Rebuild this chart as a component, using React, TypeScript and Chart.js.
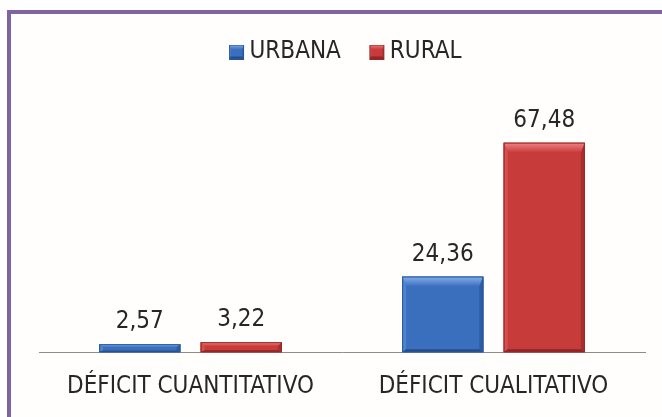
import React, { useEffect, useRef } from "react";
import { Chart, registerables } from "chart.js";

Chart.register(...registerables);

const categories = ["DÉFICIT CUANTITATIVO", "DÉFICIT CUALITATIVO"];
const seriesNames = ["URBANA", "RURAL"];
const urbanaValues = [2.57, 24.36];
const ruralValues = [3.22, 67.48];

const FONT_FAMILY = "'Liberation Sans Narrow', 'Arial Narrow', 'DejaVu Sans Condensed', sans-serif";

const palettes = [
  { body: "#3a6fbe", top: "#86b0ec", left: "#4f83d0", right: "#2c5da6", bottom: "#234e8e", edge: "#2a5695" },
  { body: "#c73b3b", top: "#f18484", left: "#d64f4f", right: "#a92e2e", bottom: "#8e2424", edge: "#962a2a" },
];

function poly(ctx: CanvasRenderingContext2D, pts: number[][], fill: any) {
  ctx.beginPath();
  ctx.moveTo(pts[0][0], pts[0][1]);
  for (let i = 1; i < pts.length; i++) ctx.lineTo(pts[i][0], pts[i][1]);
  ctx.closePath();
  ctx.fillStyle = fill;
  ctx.fill();
}

function drawBevel(ctx: CanvasRenderingContext2D, l: number, t: number, width: number, h: number, pal: any, maxTop: number) {
  const r = l + width;
  const b = t + h;
  const tb = Math.min(maxTop, h * 0.4);
  const sb = Math.min(4, width * 0.12);
  const bb = Math.min(3, h * 0.2);
  ctx.save();
  ctx.fillStyle = pal.body;
  ctx.fillRect(l, t, width, h);
  const g = ctx.createLinearGradient(0, t, 0, t + tb);
  g.addColorStop(0, pal.top);
  g.addColorStop(1, pal.body);
  poly(ctx, [[l, t], [r, t], [r - sb, t + tb], [l + sb, t + tb]], g);
  poly(ctx, [[l, t], [l + sb, t + tb], [l + sb, b - bb], [l, b]], pal.left);
  poly(ctx, [[r, t], [r - sb, t + tb], [r - sb, b - bb], [r, b]], pal.right);
  poly(ctx, [[l, b], [l + sb, b - bb], [r - sb, b - bb], [r, b]], pal.bottom);
  ctx.strokeStyle = pal.edge;
  ctx.lineWidth = 1;
  ctx.strokeRect(l + 0.5, t + 0.5, width - 1, h - 1);
  ctx.restore();
}

const bevelPlugin = {
  id: "bevel",
  afterDatasetsDraw(chart: any) {
    const ctx: CanvasRenderingContext2D = chart.ctx;
    chart.data.datasets.forEach((_ds: any, di: number) => {
      const meta = chart.getDatasetMeta(di);
      const pal = palettes[di];
      meta.data.forEach((el: any) => {
        const { x, y, base, width } = el.getProps(["x", "y", "base", "width"], true);
        const t = Math.min(y, base);
        const b = Math.max(y, base);
        drawBevel(ctx, x - width / 2, t, width, b - t, pal, 10);
      });
    });
  },
};

const valueLabelPlugin = {
  id: "valueLabels",
  afterDatasetsDraw(chart: any) {
    const ctx: CanvasRenderingContext2D = chart.ctx;
    ctx.save();
    ctx.font = `24px ${FONT_FAMILY}`;
    ctx.fillStyle = "#262626";
    ctx.textAlign = "center";
    ctx.textBaseline = "bottom";
    chart.data.datasets.forEach((ds: any, di: number) => {
      const meta = chart.getDatasetMeta(di);
      meta.data.forEach((el: any, i: number) => {
        const v = ds.data[i] as number;
        ctx.fillText(v.toFixed(2).replace(".", ","), el.x, el.y - 10);
      });
    });
    ctx.restore();
  },
};

function makeLegendImage(pal: any): HTMLCanvasElement {
  const c = document.createElement("canvas");
  c.width = 30;
  c.height = 15;
  const ctx = c.getContext("2d") as CanvasRenderingContext2D;
  drawBevel(ctx, 14, 0, 15, 15, pal, 5);
  return c;
}

export default function App() {
  const canvasRef = useRef<HTMLCanvasElement | null>(null);

  useEffect(() => {
    document.body.style.margin = "0";
    const canvas = canvasRef.current;
    if (!canvas) return;
    const legendImgs = palettes.map(makeLegendImage);
    const chart = new Chart(canvas, {
      type: "bar",
      data: {
        labels: categories,
        datasets: [
          { label: seriesNames[0], data: urbanaValues, backgroundColor: palettes[0].body, borderWidth: 0 },
          { label: seriesNames[1], data: ruralValues, backgroundColor: palettes[1].body, borderWidth: 0 },
        ],
      },
      options: {
        animation: false,
        responsive: false,
        maintainAspectRatio: false,
        layout: { padding: { top: 18, left: 39, right: 17, bottom: 14 } },
        datasets: { bar: { categoryPercentage: 0.67, barPercentage: 0.8 } },
        plugins: {
          legend: {
            display: true,
            position: "top",
            labels: {
              usePointStyle: true,
              pointStyleWidth: 15,
              boxWidth: 15,
              boxHeight: 15,
              padding: 22,
              color: "#262626",
              font: { family: FONT_FAMILY, size: 24 },
              generateLabels: (ch: any) => {
                const items = (Chart.defaults.plugins.legend.labels as any).generateLabels(ch);
                return items.map((it: any, i: number) => ({ ...it, pointStyle: legendImgs[i] }));
              },
            },
          },
          tooltip: { enabled: false },
        },
        scales: {
          x: {
            grid: { display: false, drawTicks: false },
            border: { display: true, color: "#8c8c8c", width: 1 },
            ticks: { color: "#262626", padding: 20, font: { family: FONT_FAMILY, size: 24 } },
          },
          y: { display: false, min: 0, max: 89.6 },
        },
      } as any,
      plugins: [bevelPlugin, valueLabelPlugin],
    });
    return () => chart.destroy();
  }, []);

  return (
    <div style={{ position: "relative", width: 662, height: 417, overflow: "hidden", background: "#ffffff" }}>
      <div
        style={{
          position: "absolute",
          left: 7,
          top: 10,
          width: 700,
          height: 500,
          borderTop: "4px solid #8064a2",
          borderLeft: "4px solid #8064a2",
          background: "#fffefd",
        }}
      />
      <canvas ref={canvasRef} width={662} height={435} style={{ position: "absolute", left: 0, top: 0 }} />
    </div>
  );
}
